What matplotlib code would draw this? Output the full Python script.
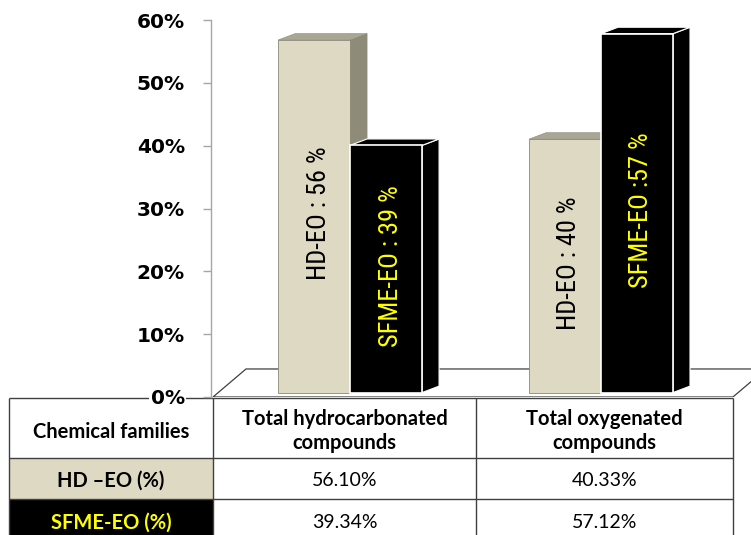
import numpy as np
import matplotlib
matplotlib.use('Agg')
import matplotlib.pyplot as plt
from matplotlib.patches import Polygon, Rectangle

# data
categories = ['Total hydrocarbonated\ncompounds', 'Total oxygenated\ncompounds']
series = ['HD \u2013EO (%)', 'SFME-EO (%)']
hd_eo = [56.10, 40.33]
sfme_eo = [39.34, 57.12]
bar_labels = [['HD-EO : 56 %', 'HD-EO : 40 %'],
              ['SFME-EO : 39 %', 'SFME-EO :57 %']]
yticks = [0, 10, 20, 30, 40, 50, 60]
corner_label = 'Chemical families'

NARROW = ['Lato', 'DejaVu Sans']
CONDENSED = ['Roboto Condensed', 'Lato', 'DejaVu Sans']
BEIGE = '#DDD9C3'
BEIGE_SIDE = '#8E8B79'
BEIGE_TOP = '#A9A694'
YELLOW = '#FFFF00'
LINE = '#404040'

W, H = 751, 535
fig = plt.figure(figsize=(W / 100, H / 100), dpi=100)

# table layer, pixel coords
tab = fig.add_axes([0, 0, 1, 1], zorder=0)
tab.set_xlim(0, W)
tab.set_ylim(H, 0)
tab.axis('off')

# chart layer
ax = fig.add_axes([211 / W, (H - 397) / H, (W - 211) / W, (397 - 20) / H], zorder=2)
ax.patch.set_visible(False)
ax.set_ylim(0, 60)
ax.set_xlim(-0.554, 1.598)

# floor of the 3d plot
fdx, fdy = 0.1315, 4.46
xl, xr = -0.546, 1.526
ax.add_patch(Polygon([(xl, 0), (xr, 0), (xr + fdx, fdy), (xl + fdx, fdy)],
                     closed=True, facecolor='white', edgecolor=LINE, lw=0.9, zorder=1))

# bars
x = np.arange(len(categories))
w = 0.287
base = 0.7
dx, dy = 0.068, 1.03
styles = [dict(front=BEIGE, side=BEIGE_SIDE, top=BEIGE_TOP, edge='#8A8877', lw=0.6, txt='black'),
          dict(front='black', side='black', top='black', edge='white', lw=1.2, txt=YELLOW)]
offsets = [-w / 2, w / 2]
for s, vals in enumerate([hd_eo, sfme_eo]):
    st = styles[s]
    for i, v in enumerate(vals):
        x0 = x[i] + offsets[s] - w / 2
        x1 = x0 + w
        top = base + v
        z = 3 + s
        ax.add_patch(Polygon([(x1, base), (x1 + dx, base + dy), (x1 + dx, top + dy), (x1, top)],
                             closed=True, facecolor=st['side'], edgecolor=st['edge'],
                             lw=st['lw'] * 0.7, zorder=z))
        ax.add_patch(Polygon([(x0, top), (x0 + dx, top + dy), (x1 + dx, top + dy), (x1, top)],
                             closed=True, facecolor=st['top'], edgecolor=st['edge'],
                             lw=st['lw'] * 0.7, zorder=z))
        ax.bar(x0, v, width=w, bottom=base, align='edge', color=st['front'],
               edgecolor=st['edge'], lw=st['lw'], zorder=z)
        ax.text(x0 + w / 2 + 0.018, base + v / 2 + 0.5, bar_labels[s][i], rotation=90,
                ha='center', va='center', fontsize=19, color=st['txt'],
                family=CONDENSED, zorder=z + 0.5)

# y axis
for side in ['top', 'right', 'bottom']:
    ax.spines[side].set_visible(False)
ax.spines['left'].set_color('#A6A6A6')
ax.spines['left'].set_linewidth(1)
ax.set_xticks([])
ax.set_yticks(yticks)
labels = ax.set_yticklabels([f'{t}%' for t in yticks], fontweight='bold', fontsize=14.5)
labels[0].set_bbox(dict(facecolor='white', edgecolor='none', pad=1))
ax.tick_params(axis='y', length=5.8, width=1, color='#A6A6A6', pad=13)

# data table under the chart
col_x = [9, 213, 476, 733]
row_y = [398, 458, 499, 535]
tab.add_patch(Rectangle((col_x[0], row_y[1]), col_x[1] - col_x[0], row_y[2] - row_y[1],
                        facecolor=BEIGE, edgecolor='none'))
tab.add_patch(Rectangle((col_x[0], row_y[2]), col_x[1] - col_x[0], row_y[3] - row_y[2],
                        facecolor='black', edgecolor='none'))
tab.hlines(row_y[:3], col_x[0], col_x[-1], color=LINE, lw=1)
tab.vlines(col_x, row_y[0], row_y[-1], color=LINE, lw=1)

lx = (col_x[0] + col_x[1]) / 2
tab.text(lx, (row_y[0] + row_y[1]) / 2 + 4, corner_label, ha='center', va='center',
         fontsize=14.5, fontweight='bold', family=NARROW)
for j, cat in enumerate(categories):
    cx = (col_x[j + 1] + col_x[j + 2]) / 2
    tab.text(cx, (row_y[0] + row_y[1]) / 2 + 3, cat, ha='center', va='center',
             fontsize=14.5, fontweight='bold', family=NARROW, linespacing=1.2)
row_colors = ['black', YELLOW]
for r, (name, vals) in enumerate(zip(series, [hd_eo, sfme_eo])):
    cy = (row_y[r + 1] + row_y[r + 2]) / 2 + (6 if r == 1 else 2)
    tab.text(lx, cy, name, ha='center', va='center', fontsize=14.5, fontweight='bold',
             color=row_colors[r], family=NARROW)
    for j, v in enumerate(vals):
        cx = (col_x[j + 1] + col_x[j + 2]) / 2
        tab.text(cx, cy, f'{v:.2f}%', ha='center', va='center', fontsize=14, family=NARROW)

fig.savefig('out.png', dpi=100)
